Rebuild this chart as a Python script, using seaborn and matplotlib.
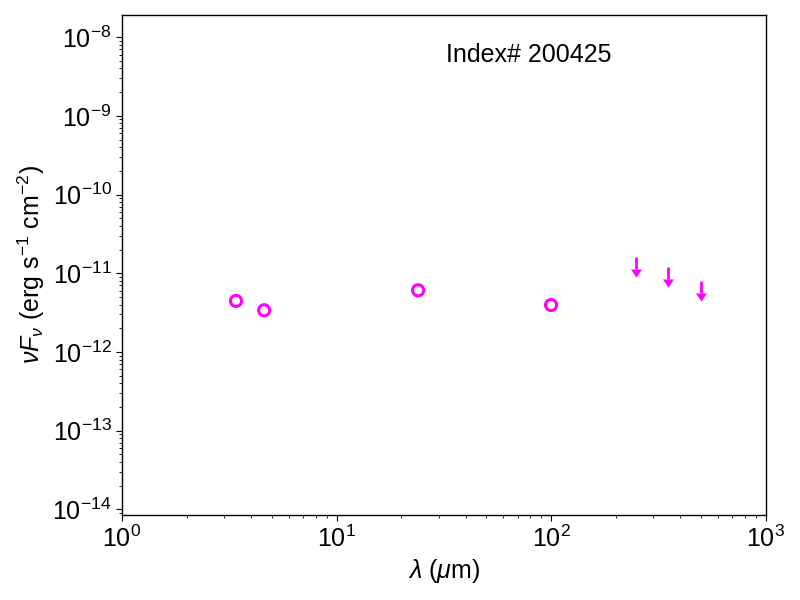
import numpy as np
import pandas as pd
import matplotlib
matplotlib.use("Agg")
import matplotlib.pyplot as plt
from matplotlib.markers import CARETDOWNBASE
import seaborn as sns

# Detections (open circles)
wave_det = [3.4, 4.6, 24.0, 100.0]
flux_det = [4.45e-12, 3.39e-12, 6.08e-12, 3.95e-12]

# Upper limits (downward arrows)
wave_ul = [250.0, 350.0, 500.0]
flux_ul = [1.63e-11, 1.21e-11, 7.98e-12]

label_text = "Index# 200425"
xlim = (1.0, 1000.0)
ylim = (8.5e-15, 1.91e-8)

sns.set_style("ticks")
plt.rcParams["font.family"] = ["Liberation Sans", "DejaVu Sans"]
plt.rcParams["mathtext.fontset"] = "custom"
plt.rcParams["mathtext.rm"] = "Liberation Sans"
plt.rcParams["mathtext.it"] = "Liberation Sans:italic"
plt.rcParams["mathtext.bf"] = "Liberation Sans:bold"
plt.rcParams["text.color"] = "black"
plt.rcParams["axes.labelcolor"] = "black"
plt.rcParams["xtick.color"] = "black"
plt.rcParams["ytick.color"] = "black"
plt.rcParams["xtick.direction"] = "out"
plt.rcParams["ytick.direction"] = "out"

fig = plt.figure(figsize=(8, 6), dpi=100)
ax = fig.add_axes([0.1525, 0.1417, 0.8045, 0.8333])

df = pd.DataFrame({"wave": wave_det, "flux": flux_det})
sns.scatterplot(data=df, x="wave", y="flux", ax=ax, marker="o", s=64,
                facecolor="none", edgecolor="magenta", linewidth=2.2, zorder=3)

ul = np.array(flux_ul)
low = ul * 0.7
ax.vlines(wave_ul, low, ul, colors="magenta", linewidth=2, zorder=3)
df_ul = pd.DataFrame({"wave": wave_ul, "flux": low})
sns.scatterplot(data=df_ul, x="wave", y="flux", ax=ax, marker=CARETDOWNBASE,
                s=52, color="magenta", edgecolor="magenta", linewidth=0.5, zorder=3)

ax.set_xscale("log")
ax.set_yscale("log")
ax.set_xlim(*xlim)
ax.set_ylim(*ylim)

for s in ax.spines.values():
    s.set_visible(True)
    s.set_color("black")
    s.set_linewidth(1.0)

ax.tick_params(axis="both", which="major", labelsize=18, length=4, width=0.8, color="black",
               labelcolor="black")
ax.tick_params(axis="both", which="minor", length=2.5, width=0.6, color="black")

ax.set_xlabel(r"$\lambda$ ($\mu$m)", fontsize=18, color="black")
ax.set_ylabel(r"$\nu F_\nu$ (erg s$^{-1}$ cm$^{-2}$)", fontsize=18, color="black")

ax.text(0.503, 0.905, label_text, transform=ax.transAxes, fontsize=18,
        ha="left", va="baseline", color="black")

fig.savefig("out.png", dpi=100)
